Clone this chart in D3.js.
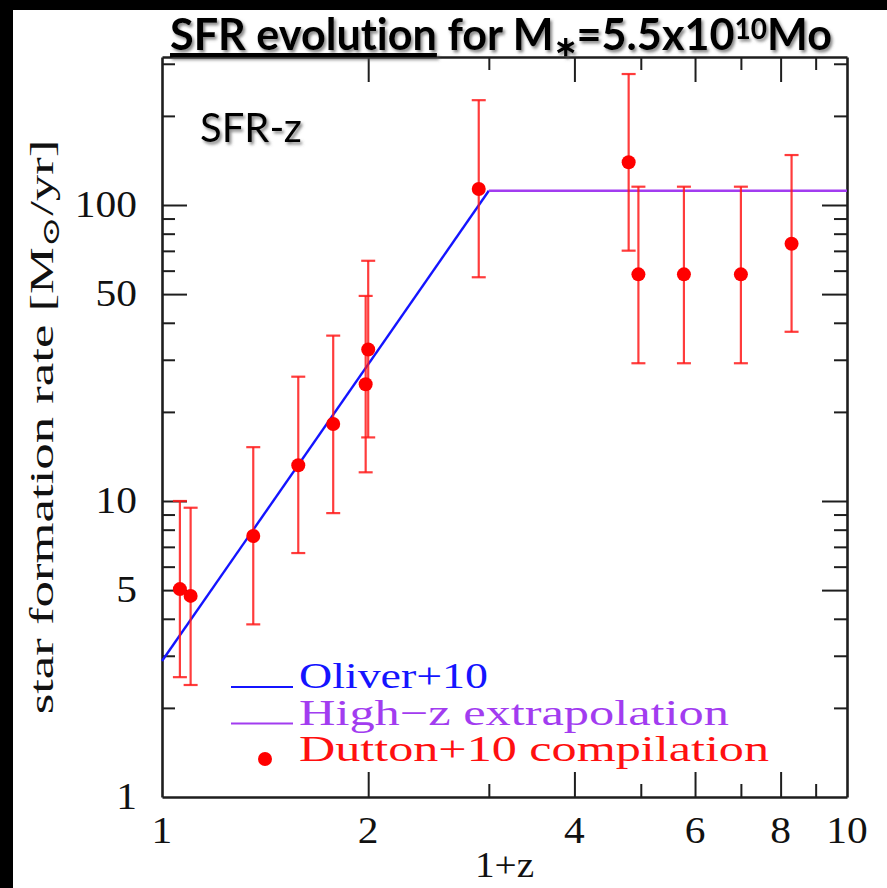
<!DOCTYPE html>
<html>
<head>
<meta charset="utf-8">
<script src="https://cdn.jsdelivr.net/npm/d3@7"></script>
<style>
  html, body { margin: 0; padding: 0; background: #fff; }
  svg { display: block; }
  text { font-variant-ligatures: none; }
</style>
</head>
<body>
<svg id="chart" width="887" height="888"></svg>
<script>
// Dutton+10 compilation: 1+z, SFR and the lower / upper ends of each error bar (Msun/yr)
const onePlusZ = [1.062, 1.101, 1.359, 1.581, 1.778, 2.0, 1.983, 2.90, 4.80, 4.96, 5.78, 7.0, 8.30];
const sfr      = [5.04, 4.78, 7.62, 13.2, 18.2, 32.5, 24.8, 113.2, 139.4, 58.3, 58.3, 58.3, 74.0];
const sfrLow   = [2.54, 2.39, 3.83, 6.67, 9.1, 16.4, 12.5, 57.0, 70.1, 29.2, 29.2, 29.2, 37.3];
const sfrHigh  = [10.0, 9.49, 15.2, 26.3, 36.2, 64.8, 49.3, 226, 277, 115.3, 115.3, 115.3, 147.5];

// Oliver+10 power law and the flat high-z extrapolation
const oliverZ   = [1, 3];
const oliverSfr = [2.88, 111.7];
const highZ     = [3, 10];
const highSfr   = [111.7, 111.7];

// Axis ticks and labels
const xMajorTicks = [2, 4, 6, 8];
const xMinorTicks = [3, 5, 7, 9];
const xTickLabels = [1, 2, 4, 6, 8, 10];
const yMajorTicks = [5, 10, 50, 100];
const yMinorTicks = [2, 3, 4, 6, 7, 8, 9, 20, 30, 40, 60, 70, 80, 90, 200, 300];
const yTickLabels = [1, 5, 10, 50, 100];

const legendItems = [
  { label: "Oliver+10", color: "#1414ff", kind: "line" },
  { label: "High\u2212z extrapolation", color: "#a23cf0", kind: "line" },
  { label: "Dutton+10 compilation", color: "#ff1010", kind: "dot" }
];

const W = 887, H = 888;
const plot = { left: 162, right: 847, top: 57, bottom: 797 };

const x = d3.scaleLog().domain([1, 10]).range([plot.left, plot.right]);
const y = d3.scaleLog().domain([1, Math.pow(10, 2.5)]).range([plot.bottom, plot.top]);

const svg = d3.select("#chart");
const serif = "'Liberation Serif', 'DejaVu Serif', serif";
const sans = "Lato, 'Open Sans', 'Noto Sans', sans-serif";

// soft drop shadow for the slide-style captions
const defs = svg.append("defs");
const shadow = defs.append("filter").attr("id", "shadow")
  .attr("x", "-10%").attr("y", "-20%").attr("width", "130%").attr("height", "160%");
shadow.append("feDropShadow").attr("dx", 2).attr("dy", 2.5).attr("stdDeviation", 1.6)
  .attr("flood-color", "#555").attr("flood-opacity", 0.7);

// background with the dark strip along the top and left edges
svg.append("rect").attr("width", W).attr("height", H).attr("fill", "#fff");
svg.append("rect").attr("x", 0).attr("y", 0).attr("width", W).attr("height", 10).attr("fill", "#000");
svg.append("rect").attr("x", 0).attr("y", 0).attr("width", 13).attr("height", H).attr("fill", "#000");

// stretch a text element horizontally to a given width
function stretchTo(sel, target) {
  const n = sel.node();
  const w = n.getComputedTextLength();
  sel.attr("textLength", target).attr("lengthAdjust", "spacingAndGlyphs");
  return w;
}

// ---- axes: frame plus inward ticks on all four sides ----
const axisStroke = "#1e1e1e";
function drawAxis(axisFn, scale, transform, major, minor, majorLen, minorLen) {
  const gMaj = svg.append("g").attr("transform", transform)
    .call(axisFn(scale).tickValues(major).tickSize(-majorLen).tickSizeOuter(0).tickFormat(""));
  const gMin = svg.append("g").attr("transform", transform)
    .call(axisFn(scale).tickValues(minor).tickSize(-minorLen).tickSizeOuter(0).tickFormat(""));
  gMin.select(".domain").remove();
  [gMaj, gMin].forEach(g => {
    g.selectAll("line").attr("stroke", axisStroke).attr("stroke-width", 2);
    g.select(".domain").attr("stroke", axisStroke).attr("stroke-width", 2.6);
  });
}
drawAxis(d3.axisBottom, x, `translate(0,${plot.bottom})`, xMajorTicks, xMinorTicks, 25, 13);
drawAxis(d3.axisTop, x, `translate(0,${plot.top})`, xMajorTicks, xMinorTicks, 25, 13);
drawAxis(d3.axisLeft, y, `translate(${plot.left},0)`, yMajorTicks, yMinorTicks, 25, 13);
drawAxis(d3.axisRight, y, `translate(${plot.right},0)`, yMajorTicks, yMinorTicks, 25, 13);

// tick labels
const xl = svg.append("g").selectAll("text").data(xTickLabels).join("text")
  .attr("x", d => x(d)).attr("y", 843)
  .attr("text-anchor", "middle")
  .attr("font-family", serif).attr("font-size", 37).attr("fill", "#111")
  .text(d => d);
xl.each(function () { const s = d3.select(this); stretchTo(s, this.getComputedTextLength() * 1.12); });

const yl = svg.append("g").selectAll("text").data(yTickLabels).join("text")
  .attr("x", 137).attr("y", d => y(d) + 12)
  .attr("text-anchor", "end")
  .attr("font-family", serif).attr("font-size", 37).attr("fill", "#111")
  .text(d => d);
yl.each(function () { const s = d3.select(this); stretchTo(s, this.getComputedTextLength() * 1.12); });

// axis titles
const xTitle = svg.append("text").attr("x", (plot.left + plot.right) / 2).attr("y", 877)
  .attr("text-anchor", "middle").attr("font-family", serif).attr("font-size", 35).attr("fill", "#111")
  .text("1+z");
stretchTo(xTitle, xTitle.node().getComputedTextLength() * 1.12);

const yTitleG = svg.append("g");
const yTitle = yTitleG.append("text").attr("x", 0).attr("y", 0)
  .attr("text-anchor", "middle").attr("font-family", serif).attr("font-size", 34).attr("fill", "#111");
yTitle.append("tspan").text("star formation rate [M");
yTitle.append("tspan").attr("baseline-shift", "-25%").attr("font-size", 24).text("\u2299");
yTitle.append("tspan").text("/yr]");
{
  const w = yTitle.node().getBBox().width;
  const k = 575 / w;
  yTitleG.attr("transform", `translate(53,${(plot.top + plot.bottom) / 2}) rotate(-90) scale(${k},1)`);
}

// ---- model lines ----
const line = d3.line().x(d => x(d[0])).y(d => y(d[1]));
svg.append("path").datum(oliverZ.map((v, i) => [v, oliverSfr[i]]))
  .attr("d", line).attr("fill", "none").attr("stroke", "#1414ff").attr("stroke-width", 2.4);
svg.append("path").datum(highZ.map((v, i) => [v, highSfr[i]]))
  .attr("d", line).attr("fill", "none").attr("stroke", "#a23cf0").attr("stroke-width", 2.4);

// ---- data points with error bars ----
const pts = onePlusZ.map((v, i) => ({ z: v, s: sfr[i], lo: sfrLow[i], hi: sfrHigh[i] }));
const errColor = "#ff1a1a";
const eg = svg.append("g").attr("stroke", errColor).attr("stroke-width", 2.2).attr("stroke-opacity", 0.85);
eg.selectAll("line.bar").data(pts).join("line").attr("class", "bar")
  .attr("x1", d => x(d.z)).attr("x2", d => x(d.z))
  .attr("y1", d => y(d.lo)).attr("y2", d => y(d.hi));
eg.selectAll("line.capHi").data(pts).join("line").attr("class", "capHi")
  .attr("x1", d => x(d.z) - 7).attr("x2", d => x(d.z) + 7)
  .attr("y1", d => y(d.hi)).attr("y2", d => y(d.hi));
eg.selectAll("line.capLo").data(pts).join("line").attr("class", "capLo")
  .attr("x1", d => x(d.z) - 7).attr("x2", d => x(d.z) + 7)
  .attr("y1", d => y(d.lo)).attr("y2", d => y(d.lo));
svg.append("g").selectAll("circle").data(pts).join("circle")
  .attr("cx", d => x(d.z)).attr("cy", d => y(d.s)).attr("r", 7).attr("fill", "#ff0000");

// ---- legend ----
const lg = svg.append("g");
legendItems.forEach((it, i) => {
  const yy = 687 + i * 36.5;
  if (it.kind === "line") {
    lg.append("line").attr("x1", 231).attr("x2", 293).attr("y1", yy).attr("y2", yy)
      .attr("stroke", it.color).attr("stroke-width", 2);
  } else {
    lg.append("circle").attr("cx", 265).attr("cy", yy - 1).attr("r", 7).attr("fill", "#ff0000");
  }
  const t = lg.append("text").attr("x", 299).attr("y", yy + 1)
    .attr("font-family", serif).attr("font-size", 35).attr("fill", it.color).text(it.label);
  stretchTo(t, [189, 430, 470][i]);
});

// ---- captions ----
const title = svg.append("text").attr("x", 170).attr("y", 50)
  .attr("font-family", sans).attr("font-weight", 700).attr("font-size", 40).attr("fill", "#000")
  .attr("filter", "url(#shadow)");
title.append("tspan").attr("text-decoration", "underline").text("SFR evolution");
title.append("tspan").text(" for M");
title.append("tspan").attr("baseline-shift", "-22%").attr("font-size", 26).text("\u2217");
title.append("tspan").attr("baseline-shift", "0%").text("=5.5x10");
title.append("tspan").attr("baseline-shift", "38%").attr("font-size", 26).text("10");
title.append("tspan").attr("baseline-shift", "0%").text("Mo");
{
  const w = title.node().getBBox().width;
  title.attr("font-size", 40 * 663 / w);
  title.selectAll("tspan").filter(function () { return d3.select(this).attr("font-size"); })
    .attr("font-size", function () { return +d3.select(this).attr("font-size") * 663 / w; });
}

svg.append("text").attr("x", 200).attr("y", 142)
  .attr("font-family", sans).attr("font-size", 40).attr("fill", "#000")
  .attr("filter", "url(#shadow)")
  .text("SFR-z");
</script>
</body>
</html>
